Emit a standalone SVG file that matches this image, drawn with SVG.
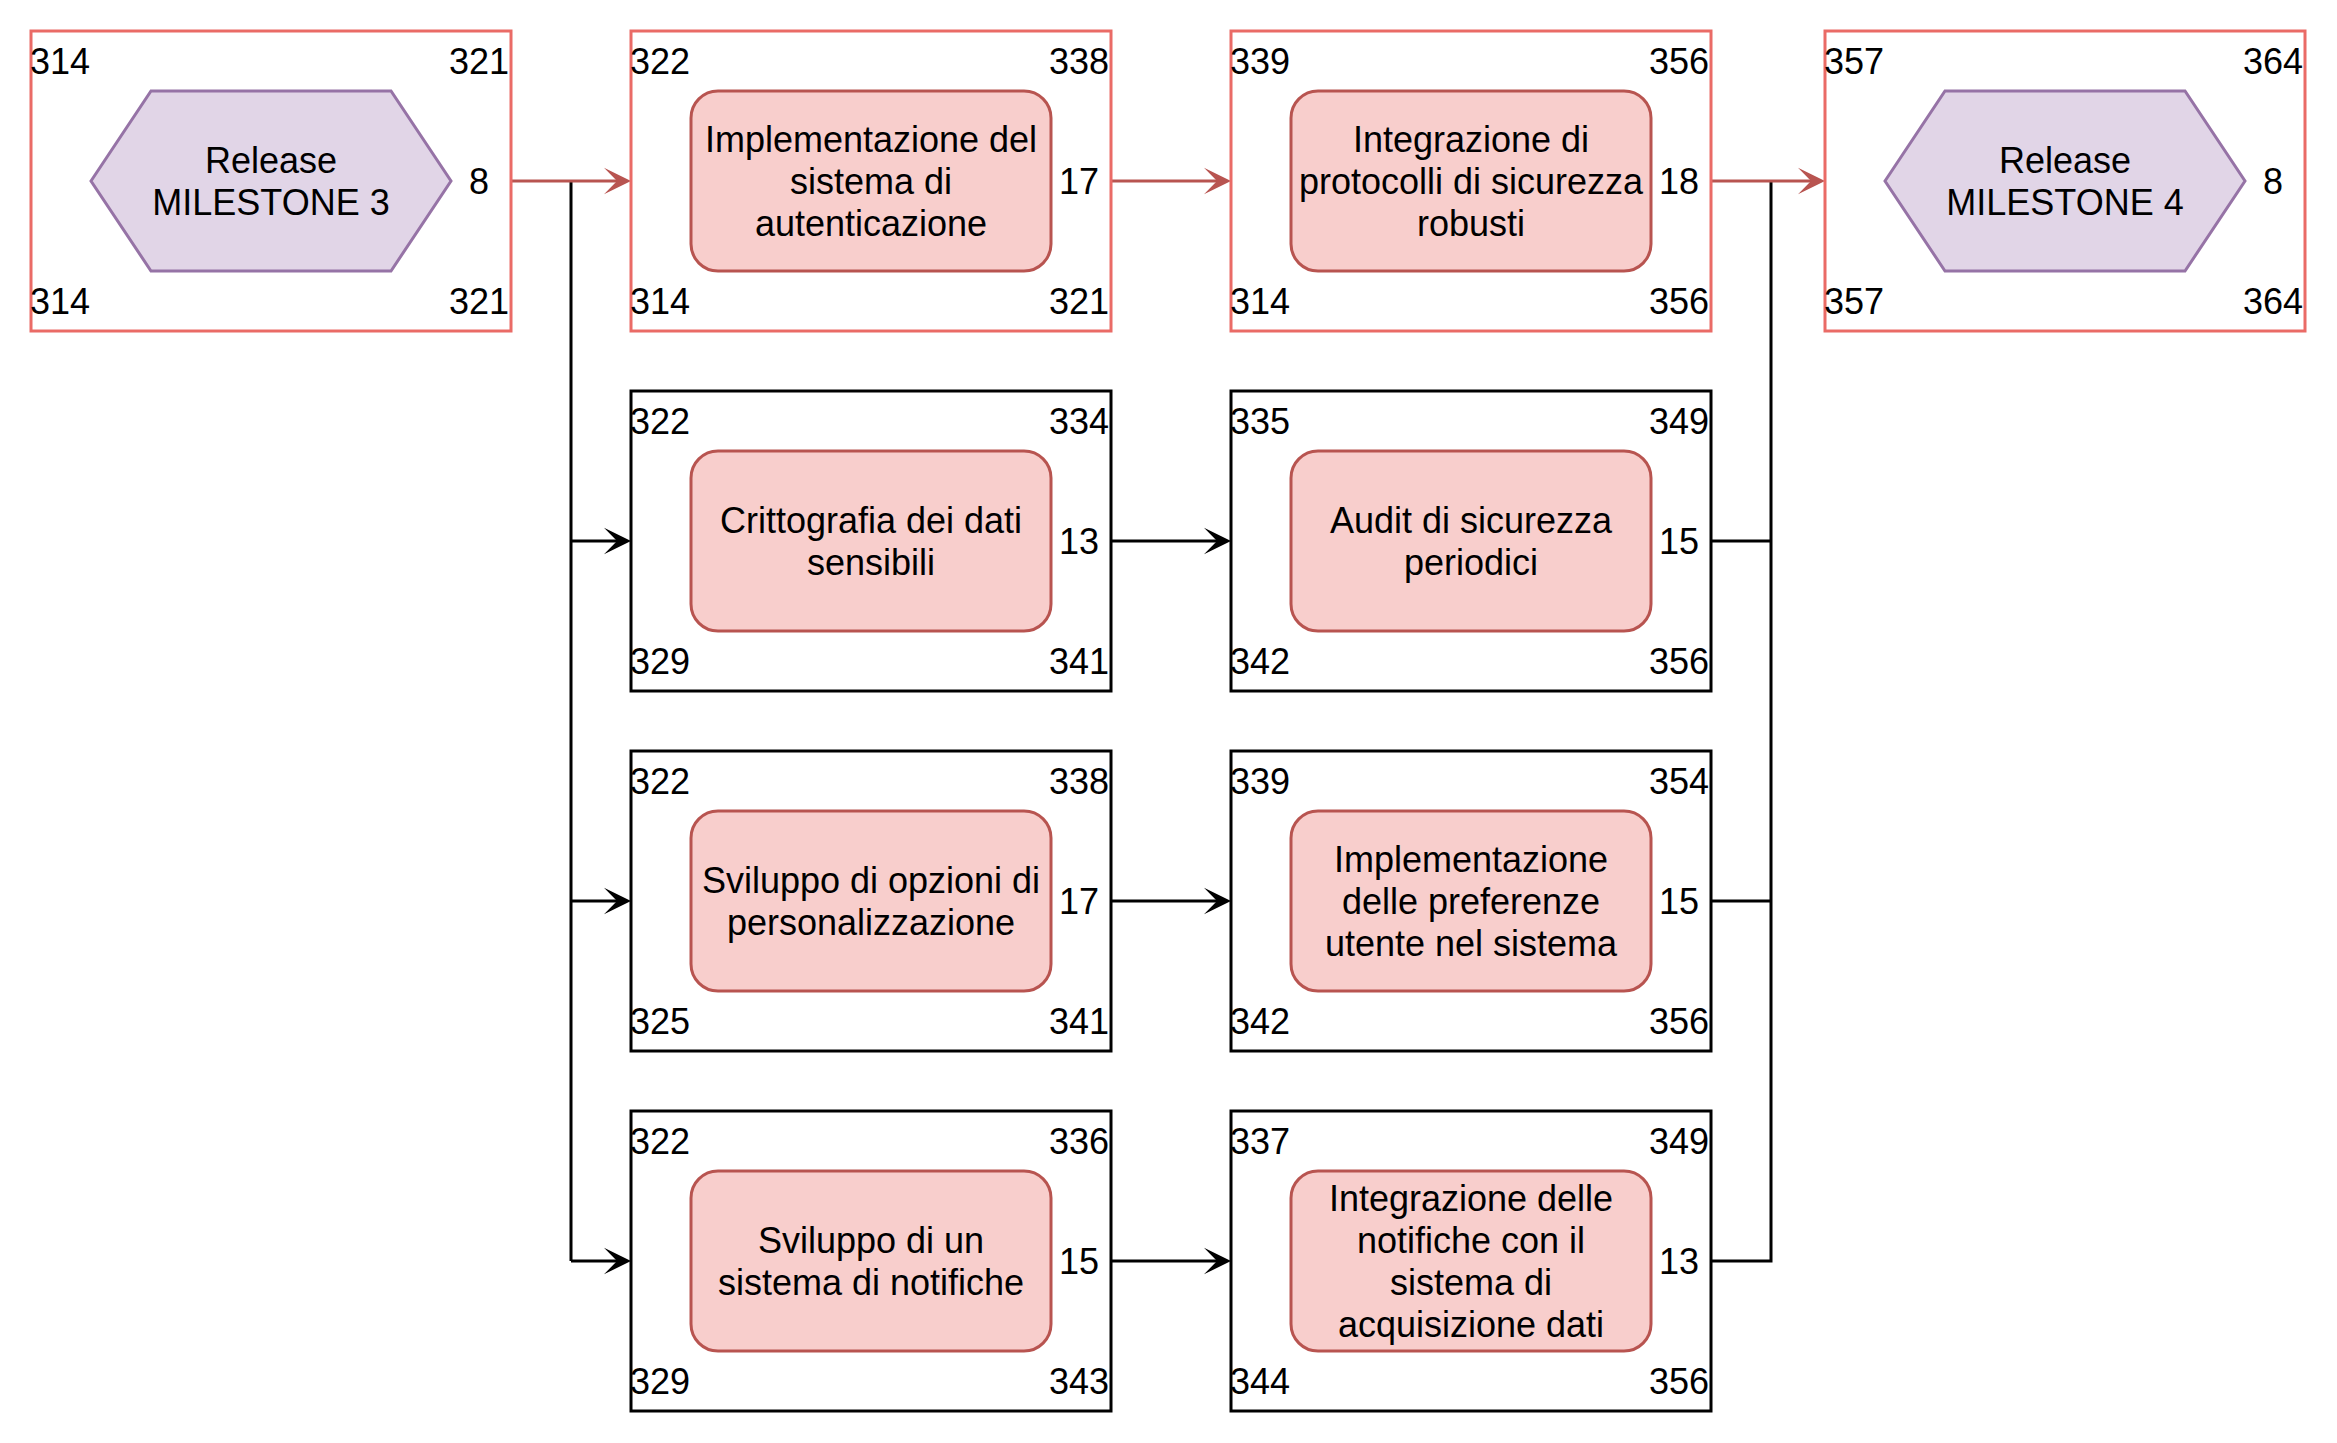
<svg xmlns="http://www.w3.org/2000/svg" width="2337" height="1443" viewBox="0 0 2337 1443">
<style>
text{font-family:"Liberation Sans",Arial,Helvetica,sans-serif;font-size:36px;fill:#000}
.box-red{fill:#fff;stroke:#EA6B66;stroke-width:3}
.box-blk{fill:#fff;stroke:#000;stroke-width:3}
.task{fill:#F8CECC;stroke:#B85450;stroke-width:3}
.ms{fill:#E1D5E7;stroke:#9673A6;stroke-width:3}
.c{text-anchor:middle}
.e{text-anchor:end}
.lr{fill:none;stroke:#B85450;stroke-width:3}
.lb{fill:none;stroke:#000;stroke-width:3}
</style>
<defs>
<marker id="ar" viewBox="0 0 28 28" refX="13" refY="14" markerWidth="28" markerHeight="28" markerUnits="userSpaceOnUse" orient="auto"><path d="M27,14 L0,0.7 L13,14 L0,27.3 Z" fill="#B85450"/></marker>
<marker id="ab" viewBox="0 0 28 28" refX="13" refY="14" markerWidth="28" markerHeight="28" markerUnits="userSpaceOnUse" orient="auto"><path d="M27,14 L0,0.7 L13,14 L0,27.3 Z" fill="#000"/></marker>
</defs>
<rect width="2337" height="1443" fill="#fff"/>

<g id="connectors">
<path class="lb" d="M571,182 L571,1261"/>
<path class="lb" d="M571,541 L617,541" marker-end="url(#ab)"/>
<path class="lb" d="M571,901 L617,901" marker-end="url(#ab)"/>
<path class="lb" d="M571,1261 L617,1261" marker-end="url(#ab)"/>
<path class="lb" d="M1111,541 L1217,541" marker-end="url(#ab)"/>
<path class="lb" d="M1111,901 L1217,901" marker-end="url(#ab)"/>
<path class="lb" d="M1111,1261 L1217,1261" marker-end="url(#ab)"/>
<path class="lb" d="M1711,541 L1771,541"/>
<path class="lb" d="M1711,901 L1771,901"/>
<path class="lb" d="M1711,1261 L1771,1261 L1771,182"/>
<path class="lr" d="M511,181 L617,181" marker-end="url(#ar)"/>
<path class="lr" d="M1111,181 L1217,181" marker-end="url(#ar)"/>
<path class="lr" d="M1711,181 L1811,181" marker-end="url(#ar)"/>
</g>

<g id="milestone3">
<rect class="box-red" x="31" y="31" width="480" height="300"/>
<polygon class="ms" points="91,181 151,91 391,91 451,181 391,271 151,271"/>
<text class="c" x="271" y="173">Release</text>
<text class="c" x="271" y="215">MILESTONE 3</text>
<text x="30" y="74">314</text><text class="e" x="509" y="74">321</text>
<text x="30" y="314">314</text><text class="e" x="509" y="314">321</text>
<text class="c" x="479" y="194">8</text>
</g>

<g id="task-autenticazione">
<rect class="box-red" x="631" y="31" width="480" height="300"/>
<rect class="task" x="691" y="91" width="360" height="180" rx="27" ry="27"/>
<text class="c" x="871" y="152">Implementazione del</text>
<text class="c" x="871" y="194">sistema di</text>
<text class="c" x="871" y="236">autenticazione</text>
<text x="630" y="74">322</text><text class="e" x="1109" y="74">338</text>
<text x="630" y="314">314</text><text class="e" x="1109" y="314">321</text>
<text class="c" x="1079" y="194">17</text>
</g>

<g id="task-protocolli">
<rect class="box-red" x="1231" y="31" width="480" height="300"/>
<rect class="task" x="1291" y="91" width="360" height="180" rx="27" ry="27"/>
<text class="c" x="1471" y="152">Integrazione di</text>
<text class="c" x="1471" y="194">protocolli di sicurezza</text>
<text class="c" x="1471" y="236">robusti</text>
<text x="1230" y="74">339</text><text class="e" x="1709" y="74">356</text>
<text x="1230" y="314">314</text><text class="e" x="1709" y="314">356</text>
<text class="c" x="1679" y="194">18</text>
</g>

<g id="milestone4">
<rect class="box-red" x="1825" y="31" width="480" height="300"/>
<polygon class="ms" points="1885,181 1945,91 2185,91 2245,181 2185,271 1945,271"/>
<text class="c" x="2065" y="173">Release</text>
<text class="c" x="2065" y="215">MILESTONE 4</text>
<text x="1824" y="74">357</text><text class="e" x="2303" y="74">364</text>
<text x="1824" y="314">357</text><text class="e" x="2303" y="314">364</text>
<text class="c" x="2273" y="194">8</text>
</g>

<g id="task-crittografia">
<rect class="box-blk" x="631" y="391" width="480" height="300"/>
<rect class="task" x="691" y="451" width="360" height="180" rx="27" ry="27"/>
<text class="c" x="871" y="533">Crittografia dei dati</text>
<text class="c" x="871" y="575">sensibili</text>
<text x="630" y="434">322</text><text class="e" x="1109" y="434">334</text>
<text x="630" y="674">329</text><text class="e" x="1109" y="674">341</text>
<text class="c" x="1079" y="554">13</text>
</g>

<g id="task-audit">
<rect class="box-blk" x="1231" y="391" width="480" height="300"/>
<rect class="task" x="1291" y="451" width="360" height="180" rx="27" ry="27"/>
<text class="c" x="1471" y="533">Audit di sicurezza</text>
<text class="c" x="1471" y="575">periodici</text>
<text x="1230" y="434">335</text><text class="e" x="1709" y="434">349</text>
<text x="1230" y="674">342</text><text class="e" x="1709" y="674">356</text>
<text class="c" x="1679" y="554">15</text>
</g>

<g id="task-personalizzazione">
<rect class="box-blk" x="631" y="751" width="480" height="300"/>
<rect class="task" x="691" y="811" width="360" height="180" rx="27" ry="27"/>
<text class="c" x="871" y="893">Sviluppo di opzioni di</text>
<text class="c" x="871" y="935">personalizzazione</text>
<text x="630" y="794">322</text><text class="e" x="1109" y="794">338</text>
<text x="630" y="1034">325</text><text class="e" x="1109" y="1034">341</text>
<text class="c" x="1079" y="914">17</text>
</g>

<g id="task-preferenze">
<rect class="box-blk" x="1231" y="751" width="480" height="300"/>
<rect class="task" x="1291" y="811" width="360" height="180" rx="27" ry="27"/>
<text class="c" x="1471" y="872">Implementazione</text>
<text class="c" x="1471" y="914">delle preferenze</text>
<text class="c" x="1471" y="956">utente nel sistema</text>
<text x="1230" y="794">339</text><text class="e" x="1709" y="794">354</text>
<text x="1230" y="1034">342</text><text class="e" x="1709" y="1034">356</text>
<text class="c" x="1679" y="914">15</text>
</g>

<g id="task-notifiche">
<rect class="box-blk" x="631" y="1111" width="480" height="300"/>
<rect class="task" x="691" y="1171" width="360" height="180" rx="27" ry="27"/>
<text class="c" x="871" y="1253">Sviluppo di un</text>
<text class="c" x="871" y="1295">sistema di notifiche</text>
<text x="630" y="1154">322</text><text class="e" x="1109" y="1154">336</text>
<text x="630" y="1394">329</text><text class="e" x="1109" y="1394">343</text>
<text class="c" x="1079" y="1274">15</text>
</g>

<g id="task-integrazione-notifiche">
<rect class="box-blk" x="1231" y="1111" width="480" height="300"/>
<rect class="task" x="1291" y="1171" width="360" height="180" rx="27" ry="27"/>
<text class="c" x="1471" y="1211">Integrazione delle</text>
<text class="c" x="1471" y="1253">notifiche con il</text>
<text class="c" x="1471" y="1295">sistema di</text>
<text class="c" x="1471" y="1337">acquisizione dati</text>
<text x="1230" y="1154">337</text><text class="e" x="1709" y="1154">349</text>
<text x="1230" y="1394">344</text><text class="e" x="1709" y="1394">356</text>
<text class="c" x="1679" y="1274">13</text>
</g>
</svg>
